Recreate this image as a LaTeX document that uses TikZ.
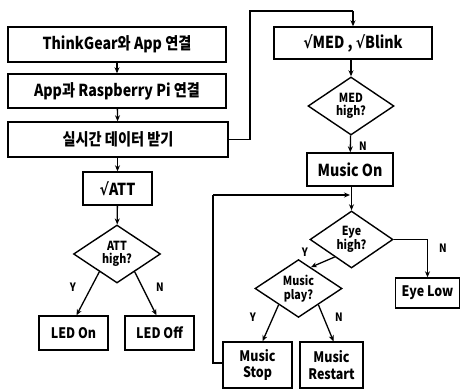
\documentclass[tikz,border=0pt]{standalone}
\usepackage{fontspec}
\setmainfont{Noto Sans CJK KR}[FakeStretch=0.86]
\newfontfamily\symf{DejaVu Sans}[FakeStretch=0.85]
\newcommand{\sq}{{\symf\bfseries √}}
\usetikzlibrary{shapes.geometric,arrows.meta,calc}
\tikzset{
  box/.style={draw, line width=1.4pt, inner sep=0pt, align=center, font=\fontsize{16.5}{17}\selectfont\bfseries},
  sbox/.style={box, font=\fontsize{14.5}{16.5}\selectfont\bfseries},
  dia/.style={draw, diamond, line width=1.4pt, inner sep=0pt, align=center, font=\fontsize{12.5}{13.5}\selectfont\bfseries},
  arr/.style={line width=1.3pt, -{Stealth[length=6pt,width=5pt]}},
  lab/.style={font=\fontsize{11.5}{12}\selectfont\bfseries, inner sep=0pt},
}
\begin{document}
\begin{tikzpicture}[x=1pt,y=-1pt]
\useasboundingbox (0,0) rectangle (460,390);
\node[box, minimum width=218, minimum height=35] (b1) at (117,44.5) {ThinkGear와 App 연결};
\node[box, minimum width=218, minimum height=34] (b2) at (117,91) {App과 Raspberry Pi 연결};
\node[box, minimum width=220, minimum height=35] (b3) at (118,139.5) {실시간 데이터 받기};
\node[box, minimum width=69, minimum height=33] (att) at (117.5,188.5) {\sq ATT};
\node[dia, minimum width=87, minimum height=58] (attd) at (117,254) {ATT\\high?};
\node[sbox, minimum width=69, minimum height=34] (ledon) at (73.5,333) {LED On};
\node[sbox, minimum width=69, minimum height=34] (ledoff) at (159.5,333) {LED Off};
\node[box, minimum width=158, minimum height=32] (med) at (353,43) {\sq MED , \sq Blink};
\node[dia, minimum width=86, minimum height=58] (medd) at (351,106) {MED\\high?};
\node[box, minimum width=86, minimum height=33] (mon) at (350,169.5) {Music On};
\node[dia, minimum width=83, minimum height=57] (eyed) at (351.5,239.5) {Eye\\high?};
\node[sbox, minimum width=64, minimum height=30] (eyelow) at (427.5,293) {Eye Low};
\node[dia, minimum width=87, minimum height=47] (musd) at (298.5,288.5) {Music\\play?};
\node[sbox, minimum width=69, minimum height=46] (mstop) at (257.5,365) {Music\\Stop};
\node[sbox, minimum width=63, minimum height=46] (mrest) at (331.5,365) {Music\\Restart};
\coordinate (c1) at (250,139.5);
\coordinate (c2) at (250,11);
\coordinate (c3) at (353,11);
\coordinate (l1) at (213,363);
\coordinate (l2) at (213,195);
\coordinate (l3) at (350,195);
\coordinate (e1) at (427.5,239.5);
\draw[arr] (b1) -- (b2);
\draw[arr] (b2) -- (b3);
\draw[arr] (b3.south -| att.north) -- (att);
\draw[arr] (att) -- (attd);
\draw[arr] ($(attd.west)!0.6!(attd.south)$) -- ([xshift=3pt]ledon.north);
\draw[arr] ($(attd.east)!0.6!(attd.south)$) -- ([xshift=-3pt]ledoff.north);
\node[lab] (ly1) at (73,287) {Y};
\node[lab] (ln1) at (160,287) {N};
\draw[line width=1.3pt] (b3.east) -- (c1) -- (c2) -- (c3);
\draw[arr] (c3) -- (med.north -| c3);
\draw[arr] (med.south -| medd.north) -- (medd);
\draw[arr] (medd) -- (mon);
\node[lab] (ln2) at (363,146) {N};
\draw[arr] (mon.south -| eyed.north) -- (eyed.north);
\draw[line width=1.3pt] (l1 -| mstop.west) -- (l1) -- (l2);
\draw[arr] (l2) -- (l3);
\draw[line width=1.3pt] (eyed.east) -- (e1);
\draw[arr] (e1) -- (eyelow.north -| e1);
\node[lab] (ln3) at (443,248) {N};
\draw[arr] ($(eyed.west)!0.6!(eyed.south)$) -- ($(musd.north)!0.28!(musd.east)$);
\node[lab] (ly3) at (305,252) {Y};
\draw[arr] ($(musd.west)!0.55!(musd.south)$) -- ([xshift=5pt]mstop.north);
\draw[arr] ($(musd.east)!0.55!(musd.south)$) -- ([xshift=2pt]mrest.north);
\node[lab] (ly4) at (253,317) {Y};
\node[lab] (ln4) at (339,317) {N};
\end{tikzpicture}
\end{document}
